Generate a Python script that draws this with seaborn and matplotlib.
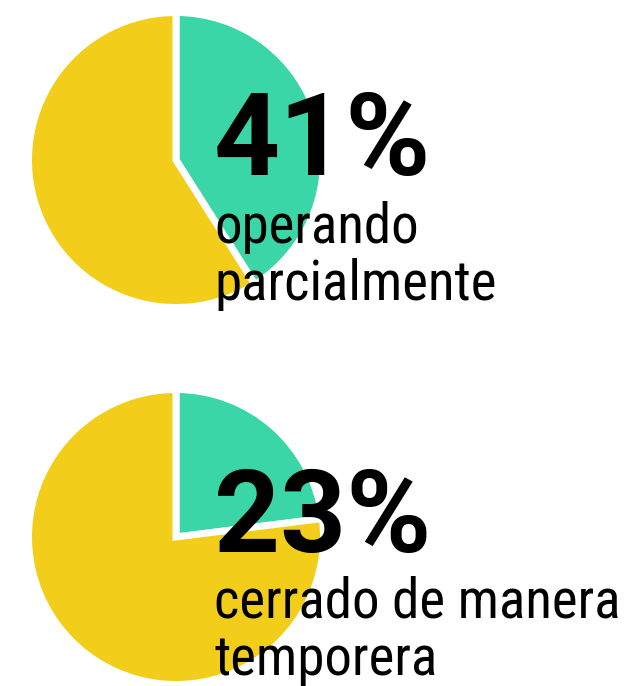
import seaborn as sns
import matplotlib.pyplot as plt

# share of businesses (green slice) vs. the rest (yellow)
percentages = [41, 23]
labels = [["operando", "parcialmente"], ["cerrado de manera", "temporera"]]
colors = ["#3AD6A7", "#F2CE1B"]

sns.set_theme(style="white")
plt.rcParams['font.family'] = ['Roboto Condensed', 'Liberation Sans Narrow', 'Lato', 'DejaVu Sans']

W, H = 631, 686
fig = plt.figure(figsize=(W / 100, H / 100), dpi=100)

# pixel layout of each pie (left, top, size) and text anchors
pie_boxes = [(28.5, 12.5, 295), (28.5, 389.5, 295)]
big_baseline = [175, 552]
line_baselines = [[243, 300], [618, 675]]
text_x = 214

for i, pct in enumerate(percentages):
    left, top, size = pie_boxes[i]
    ax = fig.add_axes([left / W, (H - top - size) / H, size / W, size / H])
    ax.pie([pct, 100 - pct], colors=colors, startangle=90, counterclock=False,
           wedgeprops=dict(edgecolor="white", linewidth=5))
    ax.set_xlim(-1, 1)
    ax.set_ylim(-1, 1)
    ax.set_aspect("equal")
    ax.axis("off")

    fig.text(text_x / W, 1 - big_baseline[i] / H, f"{pct}%", fontsize=83,
             fontweight="bold", color="black", va="baseline", ha="left",
             family=['Roboto', 'DejaVu Sans'])
    for line, yb in zip(labels[i], line_baselines[i]):
        fig.text(text_x / W, 1 - yb / H, line, fontsize=39.5,
                 color="black", va="baseline", ha="left")

fig.savefig("out.png", dpi=100)
